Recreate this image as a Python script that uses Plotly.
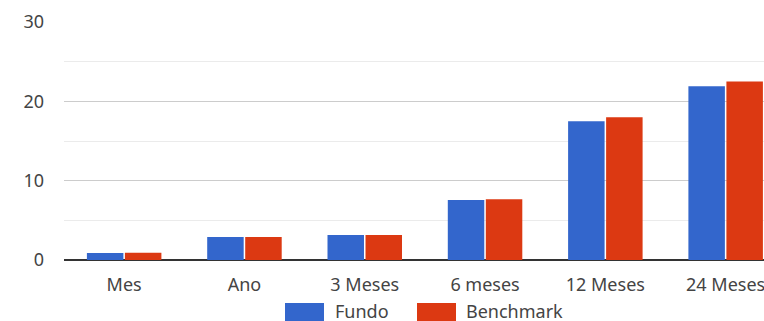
import plotly.graph_objects as go

categories = ["Mes", "Ano", "3 Meses", "6 meses", "12 Meses", "24 Meses"]
fundo = [0.88, 2.89, 3.14, 7.55, 17.48, 21.9]
benchmark = [0.9, 2.89, 3.14, 7.67, 17.99, 22.5]
series_names = ["Fundo", "Benchmark"]
colors = ["#3366cc", "#dc3912"]
y_ticks = [0, 10, 20, 30]

FONT = "Noto Sans"
TXT = "#444444"

fig = go.Figure()
for name, vals, col in zip(series_names, [fundo, benchmark], colors):
    fig.add_trace(go.Bar(x=categories, y=vals, name=name, marker=dict(color=col, line=dict(width=0)),
                         showlegend=False))

W, H = 764, 321
ml, mr, mt, mb = 64, 0, 22, 61
pw = W - ml - mr
ph = H - mt - mb
cat_px = 120.3
x_right = -0.5 + pw / cat_px


def px2x(px):
    return (px - ml) / pw


def px2y(py):
    return (H - mb - py) / ph


shapes = []
annotations = []
leg_items = [(285, 324, 333), (417, 456, 464)]
for (x0, x1, tx), name, col in zip(leg_items, series_names, colors):
    shapes.append(dict(type="rect", xref="paper", yref="paper",
                       x0=px2x(x0), x1=px2x(x1), y0=px2y(303), y1=px2y(330),
                       fillcolor=col, line=dict(width=0), layer="above"))
    annotations.append(dict(text=name, xref="paper", yref="paper", x=px2x(tx), y=px2y(311),
                            xanchor="left", yanchor="middle", showarrow=False,
                            font=dict(family=FONT, size=18, color=TXT)))

fig.update_layout(
    width=W, height=H,
    margin=dict(l=ml, r=mr, t=mt, b=mb, pad=0),
    paper_bgcolor="white", plot_bgcolor="white",
    barmode="group", bargap=0.368, bargroupgap=0.04,
    font=dict(family=FONT, size=18, color=TXT),
    showlegend=False,
    shapes=shapes, annotations=annotations,
    xaxis=dict(range=[-0.5, x_right], showgrid=False, zeroline=False, showline=False,
               ticks="", ticklabelstandoff=12,
               tickfont=dict(family=FONT, size=18, color=TXT), fixedrange=True),
    yaxis=dict(range=[0, 30], tickvals=y_ticks, showgrid=True, gridcolor="#cccccc", gridwidth=1,
               zeroline=True, zerolinecolor="#333333", zerolinewidth=2,
               minor=dict(dtick=5, tick0=0, showgrid=True, gridcolor="#ebebeb", gridwidth=1),
               ticks="", ticklabelstandoff=19,
               tickfont=dict(family=FONT, size=18, color=TXT), fixedrange=True),
)

fig.write_html("out.html", config={"displayModeBar": False})
